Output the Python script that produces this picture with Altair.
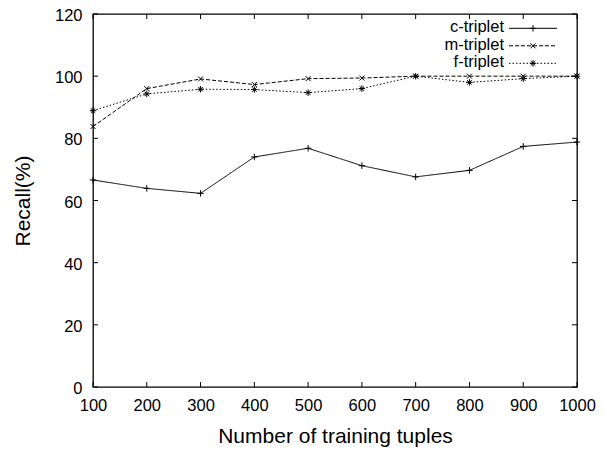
import altair as alt
import pandas as pd

# ---- data ----
tuples = [100, 200, 300, 400, 500, 600, 700, 800, 900, 1000]
c_triplet = [66.6, 63.9, 62.3, 74.0, 76.8, 71.2, 67.6, 69.7, 77.4, 78.8]
m_triplet = [83.8, 96.0, 99.1, 97.3, 99.2, 99.4, 100.0, 100.0, 100.0, 100.0]
f_triplet = [88.9, 94.3, 95.8, 95.7, 94.7, 96.0, 100.0, 98.0, 99.2, 100.0]
series_names = ["c-triplet", "m-triplet", "f-triplet"]
x_ticks = [100, 200, 300, 400, 500, 600, 700, 800, 900, 1000]
y_ticks = [0, 20, 40, 60, 80, 100, 120]

# ---- layout / style ----
W, H = 484, 373
XMIN, XMAX, YMIN, YMAX = 100, 1000, 0, 120
FONT = "Liberation Sans"
TICK_PX = 5
dx_unit = (XMAX - XMIN) / W
dy_unit = (YMAX - YMIN) / H

xs = alt.Scale(domain=[XMIN, XMAX], nice=False, zero=False)
ys = alt.Scale(domain=[YMIN, YMAX], nice=False, zero=False)

common_axis = dict(grid=False, domain=False, ticks=False, labelFont=FONT, titleFont=FONT,
                   labelFontSize=16.5, titleFontSize=21, labelColor="black",
                   titleColor="black", titleFontWeight="normal", labelFlush=False,
                   labelOverlap=False)
x_axis = alt.Axis(values=x_ticks, format="d", title="Number of training tuples",
                  labelPadding=10, titleY=49, titleBaseline="middle", **common_axis)
y_axis = alt.Axis(values=y_ticks, format="d", title="Recall(%)", labelPadding=11,
                  labelOffset=1.5, titleX=-70, titleY=H / 2, titleAngle=270,
                  titleBaseline="middle", titleAlign="center", **common_axis)


def X(field):
    return alt.X(field, scale=xs, axis=x_axis)


def Y(field):
    return alt.Y(field, scale=ys, axis=y_axis)


styles = {
    "c-triplet": dict(dash=[1, 0], shape="M-1,0L1,0M0,-1L0,1", size=42),
    "m-triplet": dict(dash=[4, 2], shape="M-1,-1L1,1M-1,1L1,-1", size=25),
    "f-triplet": dict(dash=[1.5, 2], shape="M-1,0L1,0M0,-1L0,1M-0.7,-0.7L0.7,0.7M-0.7,0.7L0.7,-0.7", size=42),
}
values = {"c-triplet": c_triplet, "m-triplet": m_triplet, "f-triplet": f_triplet}

# legend placement (data units)
leg_text_x = XMIN + (504 - 93) * dx_unit
leg_line_x1 = XMIN + (509 - 93) * dx_unit
leg_line_x2 = XMIN + (557 - 93) * dx_unit
leg_pt_x = XMIN + (533 - 93) * dx_unit
leg_row_px = [28.3, 45.8, 63.3]

layers = []
for i, name in enumerate(series_names):
    st = styles[name]
    df = pd.DataFrame({"x": tuples, "y": values[name]})
    layers.append(alt.Chart(df).mark_line(color="black", strokeWidth=1, strokeDash=st["dash"])
                  .encode(x=X("x:Q"), y=Y("y:Q")))
    layers.append(alt.Chart(df).mark_point(shape=st["shape"], size=st["size"], filled=False,
                                           color="black", strokeWidth=1, opacity=1)
                  .encode(x=X("x:Q"), y=Y("y:Q")))
    ly = YMAX - (leg_row_px[i] - 14) * dy_unit
    ldf = pd.DataFrame({"name": [name], "tx": [leg_text_x], "x1": [leg_line_x1],
                        "x2": [leg_line_x2], "px": [leg_pt_x], "y": [ly]})
    layers.append(alt.Chart(ldf).mark_text(align="right", baseline="middle", fontSize=16.5,
                                           font=FONT, color="black", dy=-1)
                  .encode(x=X("tx:Q"), y=Y("y:Q"), text="name:N"))
    layers.append(alt.Chart(ldf).mark_rule(color="black", strokeWidth=1, strokeDash=st["dash"])
                  .encode(x=X("x1:Q"), x2="x2:Q", y=Y("y:Q")))
    layers.append(alt.Chart(ldf).mark_point(shape=st["shape"], size=st["size"], filled=False,
                                            color="black", strokeWidth=1, opacity=1)
                  .encode(x=X("px:Q"), y=Y("y:Q")))

# inward ticks on all four sides
tdx = TICK_PX * dx_unit
tdy = TICK_PX * dy_unit
xt = pd.DataFrame({"v": x_ticks})
yt = pd.DataFrame({"v": y_ticks})
layers.append(alt.Chart(xt).mark_rule(color="black", strokeWidth=1).encode(
    x=X("v:Q"), y=Y("a:Q"), y2="b:Q")
    .transform_calculate(a=str(YMIN), b=str(YMIN + tdy)))
layers.append(alt.Chart(xt).mark_rule(color="black", strokeWidth=1).encode(
    x=X("v:Q"), y=Y("a:Q"), y2="b:Q")
    .transform_calculate(a=str(YMAX - tdy), b=str(YMAX)))
layers.append(alt.Chart(yt).mark_rule(color="black", strokeWidth=1).encode(
    y=Y("v:Q"), x=X("a:Q"), x2="b:Q")
    .transform_calculate(a=str(XMIN), b=str(XMIN + tdx)))
layers.append(alt.Chart(yt).mark_rule(color="black", strokeWidth=1).encode(
    y=Y("v:Q"), x=X("a:Q"), x2="b:Q")
    .transform_calculate(a=str(XMAX - tdx), b=str(XMAX)))

chart = (
    alt.layer(*layers)
    .properties(width=W, height=H, autosize="none", background="white",
                padding={"left": 85, "top": 6, "right": 20, "bottom": 60})
    .configure_view(stroke="black", strokeWidth=1.3)
)

chart.save("out.html", embed_options={"renderer": "svg", "actions": False})
